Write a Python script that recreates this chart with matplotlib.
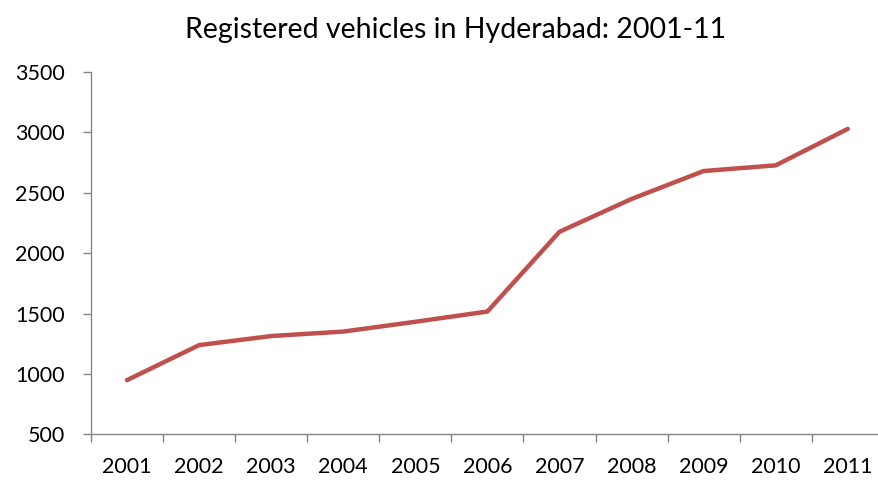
import matplotlib.pyplot as plt
from matplotlib.ticker import FixedLocator, NullFormatter, FixedFormatter

plt.rcParams["font.family"] = ["Lato", "DejaVu Sans"]

years = ["2001", "2002", "2003", "2004", "2005", "2006",
         "2007", "2008", "2009", "2010", "2011"]
vehicles = [950, 1240, 1315, 1352, 1433, 1518, 2178, 2450, 2681, 2728, 3030]

LINE = "#C0504D"
AXIS = "#868686"

fig = plt.figure(figsize=(8.79, 4.80), dpi=100)
ax = fig.add_axes([0.1035, 0.0948, 0.902, 0.755])

x = list(range(len(years)))
ax.plot(x, vehicles, color=LINE, linewidth=3.2, solid_capstyle="round",
        solid_joinstyle="round", clip_on=False)

ax.set_xlim(-0.5, len(years) - 0.5)
ax.set_ylim(500, 3500)
ax.set_yticks(range(500, 3501, 500))

# category boundaries get tick marks, labels sit at the centres
ax.xaxis.set_major_locator(FixedLocator([i - 0.5 for i in range(len(years) + 1)]))
ax.xaxis.set_major_formatter(NullFormatter())
ax.xaxis.set_minor_locator(FixedLocator(x))
ax.xaxis.set_minor_formatter(FixedFormatter(years))
ax.tick_params(axis="x", which="major", length=6, width=1, color=AXIS, direction="out")
ax.tick_params(axis="x", which="minor", length=0, pad=16, labelsize=15.5, labelcolor="black")
ax.tick_params(axis="y", length=6, width=1, color=AXIS, direction="out",
               labelsize=15.5, pad=13)

for s in ("top", "right"):
    ax.spines[s].set_visible(False)
for s in ("left", "bottom"):
    ax.spines[s].set_color(AXIS)
    ax.spines[s].set_linewidth(1)

fig.text(0.518, 0.9375, "Registered vehicles in Hyderabad: 2001-11",
         ha="center", va="center", fontsize=20.5)

fig.savefig("out.png", dpi=100, facecolor="white")
